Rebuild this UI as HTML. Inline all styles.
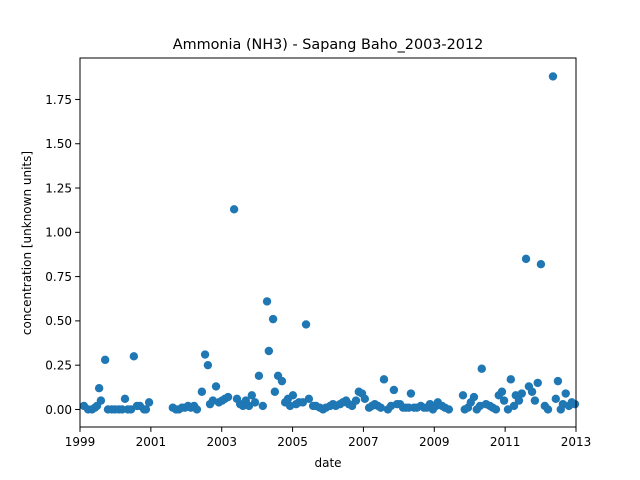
<!DOCTYPE html>
<html><head><meta charset="utf-8"><style>
html,body{margin:0;padding:0;background:#fff;}
svg{display:block;font-family:"DejaVu Sans","Liberation Sans",sans-serif;}
</style></head><body>
<svg id="chart" width="640" height="480" viewBox="0 0 640 480">
<text x="328" y="49" font-size="14.4" text-anchor="middle" fill="#000">Ammonia (NH3) - Sapang Baho_2003-2012</text>
<g id="ticks"></g>
<g id="points"></g>
<rect x="80" y="58" width="496" height="369" fill="none" stroke="#000" stroke-width="1"/>
<text x="328" y="467" font-size="12" text-anchor="middle">date</text>
<text transform="translate(31,243) rotate(-90)" font-size="12" text-anchor="middle">concentration [unknown units]</text>
</svg>
<script>
const BASE_YEAR = 1999;
const yearOffsets = [0.11,0.23,0.34,0.42,0.48,0.54,0.59,0.71,0.79,0.90,0.99,1.10,1.19,1.27,1.35,1.44,1.52,1.61,1.69,1.81,1.86,1.95,
2.62,2.71,2.79,2.88,2.96,3.05,3.13,3.22,3.30,3.44,3.53,3.61,3.67,3.75,3.84,3.92,4.01,4.09,4.18,4.35,4.43,4.52,4.60,4.68,4.77,4.85,4.94,5.05,5.16,5.28,5.33,5.45,5.50,5.59,5.70,5.79,5.87,5.93,6.01,6.10,6.18,6.29,6.38,6.46,6.58,6.66,6.77,6.86,6.94,7.06,7.14,7.22,7.34,7.42,7.51,7.59,7.68,7.79,7.87,7.96,8.04,8.16,8.24,8.32,8.41,8.49,8.58,8.69,8.78,8.86,8.95,9.03,9.12,9.20,9.28,9.34,9.43,9.51,9.62,9.71,9.79,9.88,9.96,10.05,10.10,10.22,10.30,10.41,
10.81,10.86,10.95,11.03,11.12,11.20,11.29,11.34,11.46,11.57,11.65,11.74,11.82,11.91,11.97,12.08,12.16,12.25,12.30,12.39,12.47,12.59,12.67,12.76,12.84,12.92,13.01,13.12,13.21,13.35,13.43,13.49,13.57,13.63,13.71,13.80,13.88,13.97];
const concentrations = [0.02,0.0,0.0,0.01,0.02,0.12,0.05,0.28,0.0,0.0,0.0,0.0,0.0,0.06,0.0,0.0,0.30,0.02,0.02,0.0,0.0,0.04,
0.01,0.0,0.0,0.01,0.01,0.02,0.01,0.02,0.0,0.10,0.31,0.25,0.03,0.05,0.13,0.04,0.05,0.06,0.07,1.13,0.06,0.03,0.02,0.05,0.02,0.08,0.04,0.19,0.02,0.61,0.33,0.51,0.10,0.19,0.16,0.04,0.06,0.02,0.08,0.03,0.04,0.04,0.48,0.06,0.02,0.02,0.01,0.0,0.01,0.02,0.03,0.02,0.03,0.04,0.05,0.03,0.02,0.05,0.10,0.09,0.06,0.01,0.02,0.03,0.02,0.01,0.17,0.0,0.02,0.11,0.03,0.03,0.01,0.01,0.01,0.09,0.01,0.01,0.02,0.01,0.01,0.03,0.0,0.02,0.04,0.02,0.01,0.0,
0.08,0.0,0.01,0.04,0.07,0.0,0.02,0.23,0.03,0.02,0.01,0.0,0.08,0.10,0.05,0.0,0.17,0.02,0.08,0.05,0.09,0.85,0.13,0.10,0.05,0.15,0.82,0.02,0.0,1.88,0.06,0.16,0.0,0.03,0.09,0.02,0.04,0.03];
const xTickLabels = ["1999","2001","2003","2005","2007","2009","2011","2013"];
const yTickLabels = ["0.00","0.25","0.50","0.75","1.00","1.25","1.50","1.75"];

const NS="http://www.w3.org/2000/svg";
const L=80,R=576,T=58,B=427;
const XMIN=1999,XMAX=2013,YMIN=-0.099,YMAX=1.984;
function xs(v){return L+(v-XMIN)/(XMAX-XMIN)*(R-L);}
function ys(v){return B-(v-YMIN)/(YMAX-YMIN)*(B-T);}
const tg=document.getElementById('ticks');
xTickLabels.forEach(function(lab){
  const v=parseFloat(lab),x=xs(v);
  const ln=document.createElementNS(NS,'line');
  ln.setAttribute('x1',x);ln.setAttribute('x2',x);ln.setAttribute('y1',B);ln.setAttribute('y2',B+4.9);ln.setAttribute('stroke','#000');
  
  
  tg.appendChild(ln);
  const t=document.createElementNS(NS,'text');
  t.setAttribute('x',x);t.setAttribute('y',B+19);t.setAttribute('font-size','12');t.setAttribute('text-anchor','middle');
  t.textContent=lab;
  
  
  tg.appendChild(t);
});
yTickLabels.forEach(function(lab){
  const v=parseFloat(lab),y=ys(v);
  const ln=document.createElementNS(NS,'line');
  ln.setAttribute('x1',L-4.9);ln.setAttribute('x2',L);ln.setAttribute('y1',y);ln.setAttribute('y2',y);ln.setAttribute('stroke','#000');
  
  
  tg.appendChild(ln);
  const t=document.createElementNS(NS,'text');
  t.setAttribute('x',L-8);t.setAttribute('y',y+4.3);t.setAttribute('font-size','12');t.setAttribute('text-anchor','end');
  t.textContent=lab;
  
  
  tg.appendChild(t);
});
const pg=document.getElementById('points');
yearOffsets.forEach(function(o,i){
  const c=document.createElementNS(NS,'circle');
  c.setAttribute('cx',xs(BASE_YEAR+o));c.setAttribute('cy',ys(concentrations[i]));c.setAttribute('r','4.2');c.setAttribute('fill','#1f77b4');
  
  
  pg.appendChild(c);
});
</script>
</body></html>
